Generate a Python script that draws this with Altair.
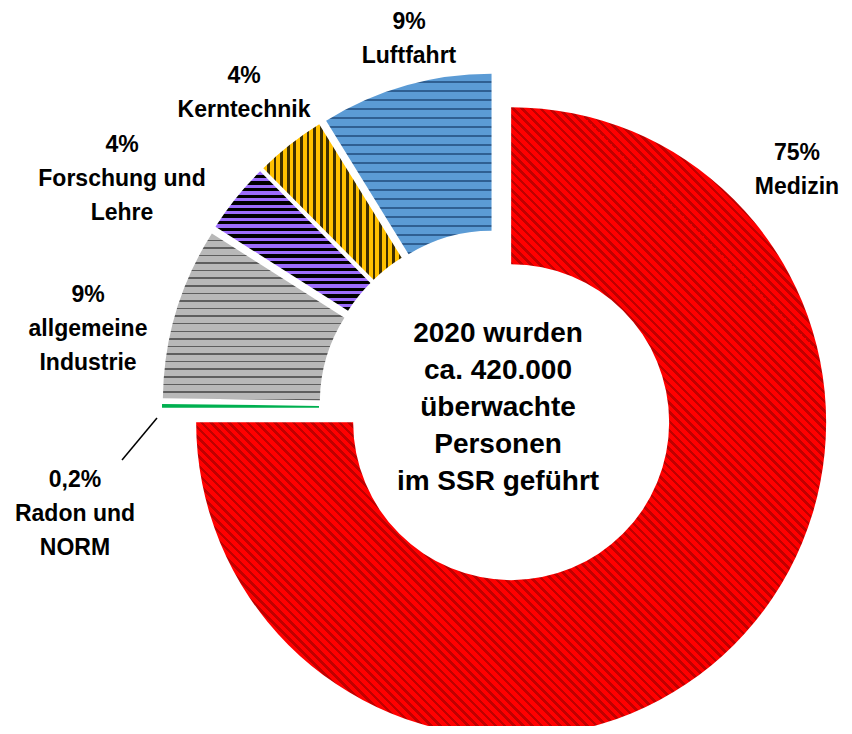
import math
import altair as alt
import pandas as pd

# ---------------- data ----------------
categories = ["Medizin", "Radon und NORM", "allgemeine Industrie",
              "Forschung und Lehre", "Kerntechnik", "Luftfahrt"]
shares = [75.0, 0.2, 8.8, 3.6, 3.6, 8.8]
share_labels = ["75%", "0,2%", "9%", "4%", "4%", "9%"]
name_lines = [["Medizin"], ["Radon und", "NORM"], ["allgemeine", "Industrie"],
              ["Forschung und", "Lehre"], ["Kerntechnik"], ["Luftfahrt"]]
center_lines = ["2020 wurden", "ca. 420.000", "überwachte", "Personen", "im SSR geführt"]

# ---------------- layout / style ----------------
CX, CY = 489, 400          # donut centre (chart pixels)
R_OUT, R_IN = 315, 158
EXPLODE = 20
FONT = "Liberation Sans"

# position of the first text line of each label (chart pixels)
label_xy = {
    "Medizin": (789, 145),
    "Luftfahrt": (401, 14),
    "Kerntechnik": (236, 68),
    "Forschung und Lehre": (114, 137),
    "allgemeine Industrie": (80, 287),
    "Radon und NORM": (67, 472),
}
center_xy = (490, 326)
leader = dict(x=149, y=410, x2=114, y2=452)

styles = {
    "Medizin": dict(base="#FF0000", line="#C00000", orient="diag", period=6.5, frac=0.4),
    "Radon und NORM": dict(base="#00B050"),
    "allgemeine Industrie": dict(base="#B8B8B8", line="#5E5E5E", orient="horiz", period=7.5, frac=0.2),
    "Forschung und Lehre": dict(base="#9C6CFA", line="#000000", orient="horiz", period=6.7, frac=0.5),
    "Kerntechnik": dict(base="#FFC000", line="#3D2E00", orient="vert", period=6.5, frac=0.42),
    "Luftfahrt": dict(base="#5B9BD5", line="#2F5F92", orient="horiz", period=9, frac=0.25),
}


def sector_bbox(a0, a1):
    mid = (a0 + a1) / 2
    cx = CX + EXPLODE * math.sin(mid)
    cy = CY - EXPLODE * math.cos(mid)
    xs, ys = [], []
    for i in range(201):
        a = a0 + (a1 - a0) * i / 200
        for r in (R_IN, R_OUT):
            xs.append(cx + r * math.sin(a))
            ys.append(cy - r * math.cos(a))
    return max(xs) - min(xs), max(ys) - min(ys)


def make_fill(cat, a0, a1):
    st = styles[cat]
    if "line" not in st:
        return st["base"]
    w, h = sector_bbox(a0, a1)
    if st["orient"] == "diag":
        length = math.hypot(w, h)
        x1, y1, x2, y2 = 0, 1, 1, 0
    elif st["orient"] == "vert":
        length = w
        x1, y1, x2, y2 = 0, 0, 1, 0
    else:
        length = h
        x1, y1, x2, y2 = 0, 0, 0, 1
    n = max(1, int(round(length / st["period"])))
    stops = []
    for i in range(n):
        a = i / n
        b = (i + 1 - st["frac"]) / n
        c = (i + 1) / n
        stops += [
            alt.GradientStop(offset=round(a, 6), color=st["base"]),
            alt.GradientStop(offset=round(b, 6), color=st["base"]),
            alt.GradientStop(offset=round(b, 6), color=st["line"]),
            alt.GradientStop(offset=round(c, 6), color=st["line"]),
        ]
    return alt.LinearGradient(gradient="linear", stops=stops, x1=x1, y1=y1, x2=x2, y2=y2)


df = pd.DataFrame({"cat": categories, "share": shares, "order": list(range(len(categories)))})

base = (
    alt.Chart(df)
    .transform_joinaggregate(total="sum(share)")
    .transform_stack(stack="share", as_=["s0", "s1"], groupby=[],
                     sort=[alt.SortField("order", order="ascending")])
    .transform_calculate(
        t0="2*PI*datum.s0/datum.total",
        t1="2*PI*datum.s1/datum.total",
    )
    .transform_calculate(mid="(datum.t0+datum.t1)/2")
    .transform_calculate(
        cx=f"{CX} + {EXPLODE}*sin(datum.mid)",
        cy=f"{CY} - {EXPLODE}*cos(datum.mid)",
    )
)

total = sum(shares)
layers = []
cum = 0.0
for cat, v in zip(categories, shares):
    a0 = 2 * math.pi * cum / total
    a1 = 2 * math.pi * (cum + v) / total
    cum += v
    layers.append(
        base.transform_filter(alt.datum.cat == cat)
        .mark_arc(radius=R_OUT, radius2=R_IN, fill=make_fill(cat, a0, a1), strokeWidth=0)
        .encode(
            theta=alt.Theta("t0:Q", scale=None),
            theta2="t1:Q",
            x=alt.X("cx:Q", scale=None, axis=None),
            y=alt.Y("cy:Q", scale=None, axis=None),
        )
    )

# category labels
lab_df = pd.DataFrame({
    "cat": categories,
    "text": [[s] + n for s, n in zip(share_labels, name_lines)],
    "lx": [label_xy[c][0] for c in categories],
    "ly": [label_xy[c][1] for c in categories],
})
labels = alt.Chart(lab_df).mark_text(
    font=FONT, fontSize=23, fontWeight="bold", lineHeight=34,
    align="center", baseline="middle", color="#000000",
).encode(
    x=alt.X("lx:Q", scale=None, axis=None),
    y=alt.Y("ly:Q", scale=None, axis=None),
    text="text",
)

center_df = pd.DataFrame({"text": [center_lines], "lx": [center_xy[0]], "ly": [center_xy[1]]})
center = alt.Chart(center_df).mark_text(
    font=FONT, fontSize=28, fontWeight="bold", lineHeight=37,
    align="center", baseline="middle", color="#000000",
).encode(
    x=alt.X("lx:Q", scale=None, axis=None),
    y=alt.Y("ly:Q", scale=None, axis=None),
    text="text",
)

leader_df = pd.DataFrame({k: [v] for k, v in leader.items()})
leader_line = alt.Chart(leader_df).mark_rule(color="#000000", strokeWidth=1.5).encode(
    x=alt.X("x:Q", scale=None, axis=None),
    y=alt.Y("y:Q", scale=None, axis=None),
    x2="x2:Q",
    y2="y2:Q",
)

chart = (
    alt.layer(*layers, leader_line, labels, center)
    .properties(width=836, height=718,
                autosize=alt.AutoSizeParams(type="fit", contains="padding"), padding=0)
    .configure_view(strokeWidth=0, stroke="transparent", fill="white")
)

chart.save("out.html", embed_options={"renderer": "svg", "actions": False})
